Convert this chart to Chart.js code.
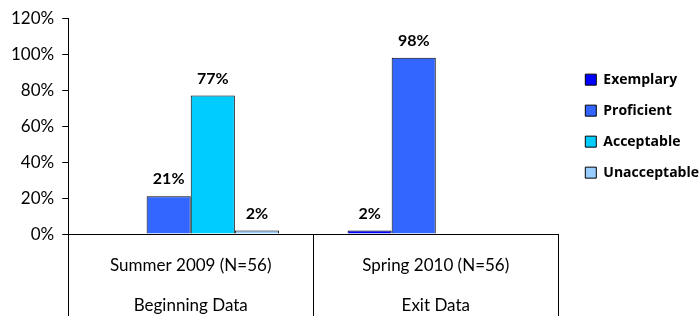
<!DOCTYPE html>
<html>
<head>
<meta charset="utf-8">
<script src="https://cdn.jsdelivr.net/npm/chart.js@4"></script>
<style>
  html, body { margin: 0; padding: 0; background: #ffffff; }
  #c { display: block; }
</style>
</head>
<body>
<canvas id="c" width="700" height="316"></canvas>
<script>
// ---- data ----
const categories = ['Summer 2009 (N=56)', 'Spring 2010 (N=56)'];
const groupLabels = ['Beginning Data', 'Exit Data'];
const seriesNames = ['Exemplary', 'Proficient', 'Acceptable', 'Unacceptable'];
const exemplary = [null, 2];
const proficient = [21, 98];
const acceptable = [77, null];
const unacceptable = [2, null];
const yMin = 0;
const yMax = 120;
const yStep = 20;

const colors = ['#0000FF', '#3366FF', '#00CCFF', '#99CCFF'];
const seriesValues = [exemplary, proficient, acceptable, unacceptable];
const axisLabels = categories.map((c, i) => [c, groupLabels[i]]);

Chart.defaults.font.family = 'Lato, "Open Sans", sans-serif';
Chart.defaults.color = '#000000';

const valueLabels = {
  id: 'valueLabels',
  afterDatasetsDraw(chart) {
    const ctx = chart.ctx;
    ctx.save();
    ctx.font = 'bold 16px Lato, sans-serif';
    ctx.fillStyle = '#000000';
    ctx.textAlign = 'center';
    ctx.textBaseline = 'middle';
    chart.data.datasets.forEach((ds, di) => {
      const meta = chart.getDatasetMeta(di);
      meta.data.forEach((bar, i) => {
        const v = ds.data[i];
        if (v === null || v === undefined) return;
        ctx.fillText(v + '%', bar.x, bar.y - 17);
      });
    });
    ctx.restore();
  }
};

const separators = {
  id: 'separators',
  afterDraw(chart) {
    const xs = chart.scales.x;
    const ctx = chart.ctx;
    const n = categories.length;
    const positions = [xs.left];
    for (let i = 0; i < n - 1; i++) {
      positions.push((xs.getPixelForValue(i) + xs.getPixelForValue(i + 1)) / 2);
    }
    positions.push(xs.right);
    ctx.save();
    ctx.strokeStyle = '#000000';
    ctx.lineWidth = 1;
    positions.forEach(p => {
      const x = Math.round(p) + 0.5;
      ctx.beginPath();
      ctx.moveTo(x, xs.top);
      ctx.lineTo(x, chart.height);
      ctx.stroke();
    });
    ctx.restore();
  }
};

// let the side legend take the width its labels need
const legendRoom = {
  id: 'legendRoom',
  beforeLayout(chart) {
    const lg = chart.legend;
    if (lg && !lg.__roomy) {
      const up = lg.update.bind(lg);
      lg.update = (mw, mh, m) => up(Math.max(mw, 200), mh, m);
      lg.__roomy = true;
    }
  }
};

new Chart(document.getElementById('c'), {
  type: 'bar',
  data: {
    labels: axisLabels,
    datasets: seriesNames.map((name, k) => ({
      label: name,
      data: seriesValues[k],
      backgroundColor: colors[k],
      borderColor: '#000000',
      borderWidth: 1,
      categoryPercentage: 0.72,
      barPercentage: 1.0
    }))
  },
  options: {
    responsive: false,
    animation: false,
    layout: { padding: { left: 3, right: -9, top: 14, bottom: -20 } },
    plugins: {
      tooltip: { enabled: false },
      legend: {
        position: 'right',
        align: 'center',
        fullSize: false,
        labels: {
          boxWidth: 11,
          boxHeight: 11,
          padding: 17,
          color: '#000000',
          font: { family: '"Open Sans", sans-serif', size: 14, weight: 'bold' }
        }
      }
    },
    scales: {
      x: {
        type: 'category',
        position: 'bottom',
        offset: true,
        grid: { display: false, drawTicks: false },
        border: { display: true, color: '#000000', width: 1 },
        ticks: { padding: 11, font: { size: 17, lineHeight: 2.35 }, color: '#000000', maxRotation: 0, autoSkip: false }
      },
      y: {
        min: yMin,
        max: yMax,
        grid: { display: true, drawOnChartArea: false, drawTicks: true, tickLength: 6, color: '#000000' },
        border: { display: true, color: '#000000', width: 1 },
        ticks: {
          stepSize: yStep,
          padding: 8,
          font: { size: 17 },
          color: '#000000',
          callback: v => v + '%'
        }
      },
      yR: {
        type: 'linear',
        position: 'right',
        display: true,
        grid: { display: false },
        border: { display: false },
        ticks: { display: false },
        afterFit(scale) { scale.width = 10; }
      }
    }
  },
  plugins: [valueLabels, separators, legendRoom]
});
</script>
</body>
</html>
